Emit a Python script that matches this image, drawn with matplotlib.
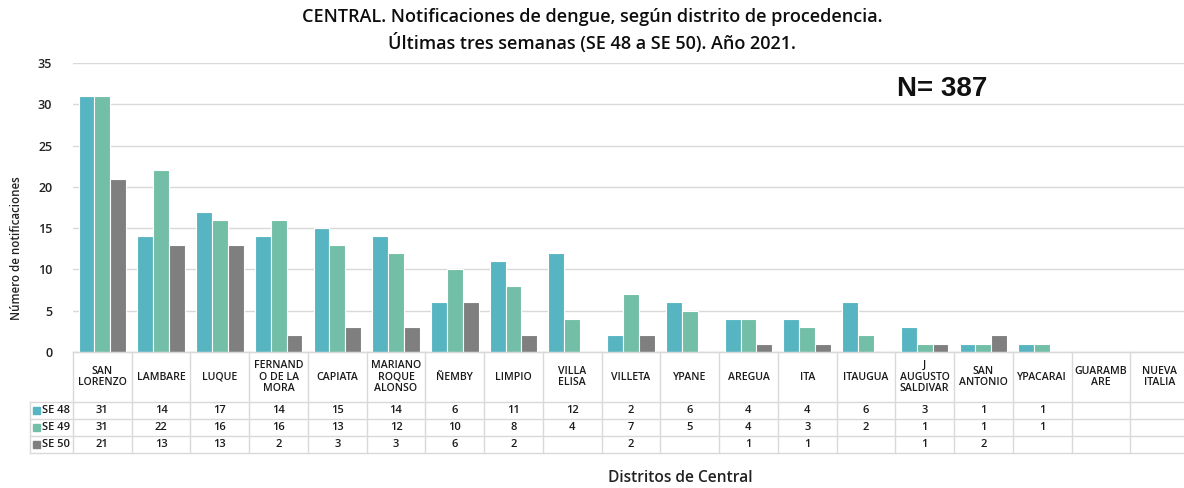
import numpy as np
import matplotlib
matplotlib.use("Agg")
import matplotlib.pyplot as plt
from matplotlib.transforms import blended_transform_factory
from matplotlib.lines import Line2D
from matplotlib.patches import Rectangle

plt.rcParams['font.family'] = ['Open Sans', 'DejaVu Sans']

categories = ["SAN\nLORENZO", "LAMBARE", "LUQUE", "FERNAND\nO DE LA\nMORA", "CAPIATA",
              "MARIANO\nROQUE\nALONSO", "ÑEMBY", "LIMPIO", "VILLA\nELISA", "VILLETA",
              "YPANE", "AREGUA", "ITA", "ITAUGUA", "J\nAUGUSTO\nSALDIVAR", "SAN\nANTONIO",
              "YPACARAI", "GUARAMB\nARE", "NUEVA\nITALIA"]
se48 = [31, 14, 17, 14, 15, 14, 6, 11, 12, 2, 6, 4, 4, 6, 3, 1, 1, None, None]
se49 = [31, 22, 16, 16, 13, 12, 10, 8, 4, 7, 5, 4, 3, 2, 1, 1, 1, None, None]
se50 = [21, 13, 13, 2, 3, 3, 6, 2, None, 2, None, 1, 1, None, 1, 2, None, None, None]
series_names = ["SE 48", "SE 49", "SE 50"]
colors = ["#57B5C1", "#73BEA6", "#7F7F7F"]
yticks = [0, 5, 10, 15, 20, 25, 30, 35]

W, H = 1184, 488
fig = plt.figure(figsize=(W / 100, H / 100), dpi=100)

def fy(py):
    return 1 - py / H

def fx(px):
    return px / W

ax_left, ax_right = 73, 1189
ax_top, ax_bot = 63, 352
ax = fig.add_axes([fx(ax_left), fy(ax_bot), fx(ax_right - ax_left), (ax_bot - ax_top) / H])

n = len(categories)
x = np.arange(n)
bw = 0.27
all_series = [se48, se49, se50]
for i, (vals, c) in enumerate(zip(all_series, colors)):
    v = np.array([np.nan if a is None else a for a in vals], dtype=float)
    ax.bar(x + (i - 1) * bw, v, width=bw, color=c, edgecolor="white", linewidth=0.8, zorder=3)

ax.set_xlim(-0.5, n - 0.5)
ax.set_ylim(0, 35)
ax.set_yticks(yticks)
ax.set_yticklabels([str(t) for t in yticks], fontsize=9, fontweight='semibold', color="#222222")
ax.tick_params(axis='y', length=0, pad=15)
ax.set_xticks([])
ax.grid(axis='y', color="#D9D9D9", linewidth=1, zorder=0)
for s in ["top", "right", "left"]:
    ax.spines[s].set_visible(False)
ax.spines["bottom"].set_color("#D9D9D9")

# Table below the axes
tr = blended_transform_factory(ax.transData, fig.transFigure)
line_c = "#D9D9D9"
row_y = [352, 402, 419, 436, 453]
table_left = 30
for k, py in enumerate(row_y):
    x0 = fx(ax_left) if k == 0 else fx(table_left)
    fig.add_artist(Line2D([x0, 1.01], [fy(py), fy(py)], color=line_c, lw=1))
for j in range(n + 1):
    fig.add_artist(Line2D([j - 0.5, j - 0.5], [fy(352), fy(453)], color=line_c, lw=1, transform=tr))
fig.add_artist(Line2D([fx(table_left), fx(table_left)], [fy(402), fy(453)], color=line_c, lw=1))

for j, cat in enumerate(categories):
    fig.text(j, fy(377), cat, transform=tr, ha='center', va='center', fontsize=7.6,
             fontweight='semibold', color="#1a1a1a", linespacing=1.12)

for r, (vals, name, c) in enumerate(zip(all_series, series_names, colors)):
    yc = fy((row_y[r + 1] + row_y[r + 2]) / 2)
    fig.add_artist(Rectangle((fx(33), yc - 3.5 / H), 7 / W, 7 / H, color=c, transform=fig.transFigure))
    fig.text(fx(42), yc, name, ha='left', va='center', fontsize=8, fontweight='semibold', color="#1a1a1a")
    for j, v in enumerate(vals):
        if v is not None:
            fig.text(j, yc, str(v), transform=tr, ha='center', va='center', fontsize=8,
                     fontweight='semibold', color="#1a1a1a")

fig.text(0.5, fy(17), "CENTRAL. Notificaciones de dengue, según distrito de procedencia.",
         ha='center', va='center', fontsize=13, fontweight='semibold', color="#0d0d0d")
fig.text(0.5, fy(43), "Últimas tres semanas (SE 48 a SE 50). Año 2021.",
         ha='center', va='center', fontsize=13, fontweight='semibold', color="#0d0d0d")
fig.text(fx(942), fy(89), "N= 387", ha='center', va='center', fontsize=20, fontweight='bold',
         family=['Liberation Sans', 'DejaVu Sans'], color="#111111")
fig.text(fx(17), fy(248), "Número de notificaciones", rotation=90, ha='center', va='center',
         fontsize=8.3, fontweight='semibold', color="#222222")
fig.text(fx(680), fy(478), "Distritos de Central", ha='center', va='center', fontsize=11.2,
         fontweight='semibold', color="#222222")

fig.savefig("out.png", dpi=100)
